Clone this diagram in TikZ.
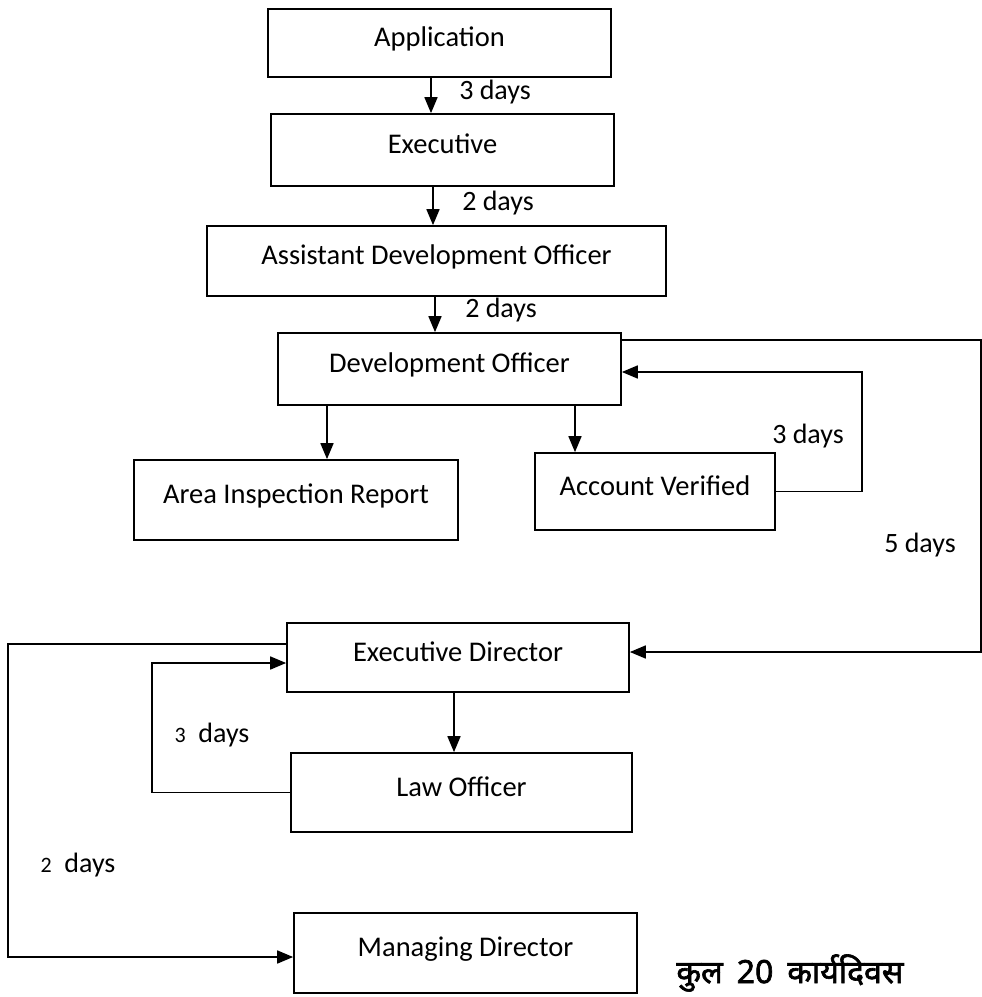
\documentclass[tikz,border=0pt]{standalone}
\usepackage{fontspec}
\setmainfont{Carlito}
\newfontfamily\hindifont[Script=Devanagari, FakeBold=2]{Noto Sans}
\usetikzlibrary{arrows.meta}
\begin{document}
\begin{tikzpicture}[x=1pt,y=-1pt,
  box/.style={draw, line width=1.7pt, rectangle, inner sep=0pt, text height=20pt, text depth=13pt, font=\fontsize{28.5}{31}\selectfont},
  lbl/.style={font=\fontsize{28}{31}\selectfont, inner sep=0pt},
  conn/.style={line width=1.7pt, -{Triangle[length=16pt,width=13pt]}},
  plain/.style={line width=1.7pt}]
\useasboundingbox (0,0) rectangle (982,997);
\node[box, minimum width=343pt, minimum height=68pt] (app) at (439.5,43) {Application};
\node[box, minimum width=343pt, minimum height=72pt] (exe) at (442.5,150) {Executive};
\node[box, minimum width=459pt, minimum height=70pt] (ado) at (436.5,261) {Assistant Development Officer};
\node[box, minimum width=343pt, minimum height=72pt] (do) at (449.5,369) {Development Officer};
\node[box, minimum width=324pt, minimum height=80pt] (air) at (296,500) {Area Inspection Report};
\node[box, minimum width=240pt, minimum height=77pt] (av) at (655,491.5) {Account Verified};
\node[box, minimum width=342pt, minimum height=69pt] (ed) at (458,657.5) {Executive Director};
\node[box, minimum width=341pt, minimum height=79pt] (lo) at (461.5,792.5) {Law Officer};
\node[box, minimum width=343pt, minimum height=80pt] (md) at (465.5,953) {Managing Director};

\draw[conn] ([xshift=-8.5pt]app.south) -- ([xshift=-8.5pt]app.south |- exe.north);
\draw[conn] ([xshift=-9.5pt]exe.south) -- ([xshift=-9.5pt]exe.south |- ado.north);
\draw[conn] ([xshift=-1.5pt]ado.south) -- ([xshift=-1.5pt]ado.south |- do.north);
\draw[conn] ([xshift=-122.5pt]do.south) -- ([xshift=-122.5pt]do.south |- air.north);
\draw[conn] ([xshift=125.5pt]do.south) -- ([xshift=125.5pt]do.south |- av.north);
\draw[conn] (av.east) -- ++(86,0) |- ([yshift=-3pt]do.east);
\draw[conn] ([yshift=29pt]do.east) -- ++(359,0) |- ([yshift=5.5pt]ed.east);
\draw[conn] ([xshift=-4pt]ed.south) -- ([xshift=-4pt]ed.south |- lo.north);
\draw[conn] (lo.west) -- ++(-138,0) |- ([yshift=-5.5pt]ed.west);
\draw[conn] ([yshift=13.5pt]ed.west) -- ++(-278,0) |- ([yshift=-4pt]md.west);

\node[lbl] (l1) at (495,92) {3 days};
\node[lbl] (l2) at (498,203) {2 days};
\node[lbl] (l3) at (501,310) {2 days};
\node[lbl] (l4) at (808,436) {3 days};
\node[lbl] (l5) at (920,545) {5 days};
\node[lbl] (l6) at (212,735) {{\fontsize{22}{24}\selectfont 3}~~days};
\node[lbl] (l7) at (78,865) {{\fontsize{22}{24}\selectfont 2}~~days};
\node[font=\hindifont\fontsize{32}{36}\selectfont, inner sep=0pt] (total) at (790,973) {कुल\hspace{14pt}20\hspace{14pt}कार्यदिवस};
\end{tikzpicture}
\end{document}
